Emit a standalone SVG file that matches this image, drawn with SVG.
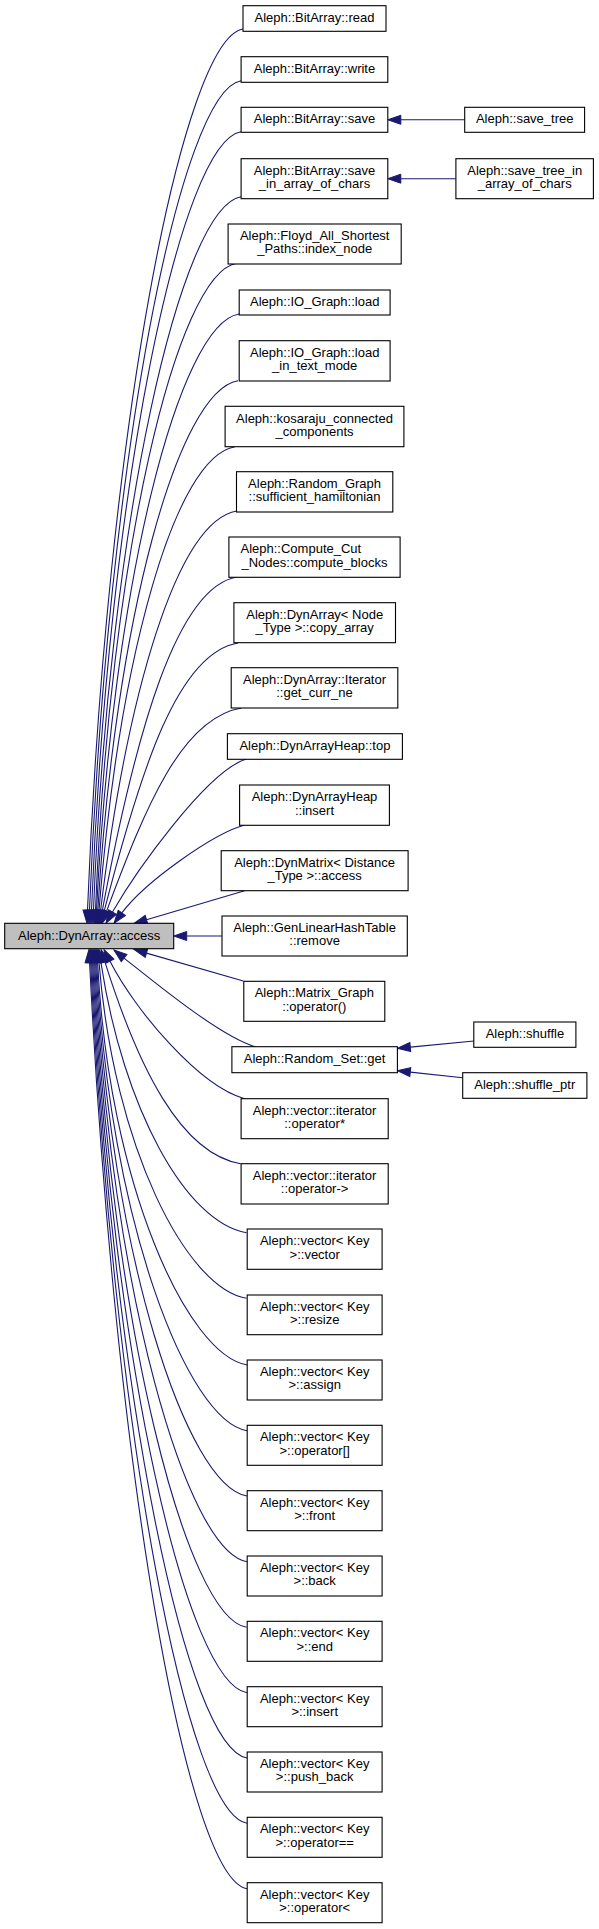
<svg xmlns="http://www.w3.org/2000/svg" width="599" height="1929" viewBox="0 0 599 1929">
<style>
.n rect{fill:#fff;stroke:#000;stroke-width:1.1}
#main rect{fill:#bfbfbf}
text{font-family:"Liberation Sans",Arial,Helvetica,sans-serif;font-size:13px;text-anchor:middle;fill:#000}
text.l{text-anchor:start}
.e path{fill:none;stroke:#191970;stroke-width:1.1;marker-end:url(#ah)}
</style>
<defs>
<marker id="ah" markerUnits="userSpaceOnUse" markerWidth="14" markerHeight="10" refX="0" refY="4.5" orient="auto" overflow="visible">
<path d="M0,0 L13,4.5 L0,9 Z" fill="#191970" stroke="#191970" stroke-width="1"/>
</marker>
</defs>
<rect width="599" height="1929" fill="#fff"/>
<g class="e" id="connectors">
<path d="M243,29 C183,39 106.9,425.6 87.5,910.3"/>
<path d="M241,80.7 C181,90.7 107.8,454 89.5,910.3"/>
<path d="M241,131.7 C181,141.7 108.6,482.1 91.5,910.3"/>
<path d="M241,196.7 C181,206.7 109.2,517.8 93.5,910.3"/>
<path d="M236.7,263.3 C176.7,273.3 109.7,554.4 95.5,910.3"/>
<path d="M239,314 C179,324 112.9,582.3 96.5,910.3"/>
<path d="M238,380.7 C178,390.7 115.3,619 97.8,910.3"/>
<path d="M235,446.7 C175,456.7 119.4,655.3 99,910.3"/>
<path d="M237,511 C177,521 127,692.9 100.6,910.4"/>
<path d="M237,577 C177,587 136,730.6 102.3,910.6"/>
<path d="M238,643 C178,653 141,768 104.3,910.7"/>
<path d="M241.5,708 C181.5,718 145.5,806.8 106.6,911.1"/>
<path d="M246.5,759 C206.5,771 135,873 112.5,912"/>
<path d="M244.6,825 C214.6,833 145.8,880.9 121.8,912.9"/>
<path d="M244.6,890.7 L146.5,919.7"/>
<path d="M222,936 L186.7,936"/>
<path d="M243.3,981 L146.5,953.1"/>
<path d="M256,1047 C221,1037 155.3,982.9 124.1,958.1"/>
<path d="M244.6,1098.7 C199.6,1086.7 134.6,1010 109.9,961.1"/>
<path d="M240.7,1163.7 C180.7,1153.7 138.2,1067.4 104.9,961.9"/>
<path d="M246.5,1232.7 C186.5,1222.7 123.2,1109.4 100.9,962.4"/>
<path d="M246.5,1298.3 C186.5,1288.3 113.8,1147.1 99,962.4"/>
<path d="M247.2,1365 C187.2,1355 108.7,1183.9 97.6,962.5"/>
<path d="M247,1430.7 C187,1420.7 109.5,1220 96.6,962.5"/>
<path d="M247,1496 C187,1486 110.3,1255.9 95.6,962.5"/>
<path d="M247,1561.7 C187,1551.7 111.1,1292.1 94.6,962.5"/>
<path d="M246.5,1627.3 C186.5,1617.3 111.9,1328.1 93.6,962.5"/>
<path d="M247,1692.7 C187,1682.7 112.7,1364.1 92.6,962.5"/>
<path d="M247,1758 C187,1748 113.5,1400 91.6,962.5"/>
<path d="M247,1823.3 C187,1813.3 114.3,1435.9 90.6,962.5"/>
<path d="M247,1888.7 C187,1878.7 115.1,1471.9 89.6,962.5"/>
<path d="M464.7,119.8 L400.8,119.8"/>
<path d="M455.9,178.7 L400.8,178.7"/>
<path d="M474,1041 L410.3,1047.1"/>
<path d="M462.7,1077.7 L410.3,1072.1"/>
</g>
<g class="n" id="main"><rect x="4.7" y="923.3" width="169" height="25.4"/><text x="89.2" y="939.5">Aleph::DynArray::access</text></g>
<g class="n" id="n_read"><rect x="243" y="5.7" width="143" height="25.6"/><text x="314.5" y="22">Aleph::BitArray::read</text></g>
<g class="n" id="n_write"><rect x="241.1" y="56.7" width="146.7" height="25.6"/><text x="314.5" y="72.7">Aleph::BitArray::write</text></g>
<g class="n" id="n_save"><rect x="241.1" y="107.3" width="146.7" height="25"/><text x="314.5" y="123.3">Aleph::BitArray::save</text></g>
<g class="n" id="n_save_in"><rect x="241.1" y="158.7" width="146.7" height="40"/><text x="314.5" y="174.7">Aleph::BitArray::save</text><text x="314.5" y="188">_in_array_of_chars</text></g>
<g class="n" id="n_save_tree"><rect x="464.7" y="107.3" width="119.9" height="25"/><text x="524.7" y="123.3">Aleph::save_tree</text></g>
<g class="n" id="n_save_tree_in"><rect x="455.9" y="158.7" width="137.5" height="40"/><text x="524.7" y="174.7">Aleph::save_tree_in</text><text x="524.7" y="188">_array_of_chars</text></g>
<g class="n" id="n_floyd"><rect x="228.1" y="224" width="173.1" height="40"/><text x="314.7" y="240">Aleph::Floyd_All_Shortest</text><text x="314.7" y="253.3">_Paths::index_node</text></g>
<g class="n" id="n_io_load"><rect x="239.2" y="290" width="150.9" height="25"/><text x="314.7" y="306">Aleph::IO_Graph::load</text></g>
<g class="n" id="n_io_load_text"><rect x="239.2" y="340.7" width="150.9" height="40.3"/><text x="314.7" y="356.8">Aleph::IO_Graph::load</text><text x="314.7" y="370.1">_in_text_mode</text></g>
<g class="n" id="n_kosaraju"><rect x="225.1" y="406.3" width="178.8" height="40.4"/><text x="314.5" y="422.5">Aleph::kosaraju_connected</text><text x="314.5" y="435.8">_components</text></g>
<g class="n" id="n_random_graph"><rect x="236.5" y="471.7" width="156.3" height="40.3"/><text x="314.6" y="487.8">Aleph::Random_Graph</text><text x="314.6" y="501.1">::sufficient_hamiltonian</text></g>
<g class="n" id="n_cut_nodes"><rect x="228.9" y="537" width="171.2" height="40.3"/><text class="l" x="240.5" y="553.2">Aleph::Compute_Cut</text><text x="314.5" y="566.5">_Nodes::compute_blocks</text></g>
<g class="n" id="n_copy_array"><rect x="233.9" y="602.7" width="161.6" height="40"/><text x="314.7" y="618.7">Aleph::DynArray&lt; Node</text><text x="314.7" y="632">_Type &gt;::copy_array</text></g>
<g class="n" id="n_iterator"><rect x="231.2" y="667.7" width="166.6" height="40.3"/><text x="314.5" y="683.8">Aleph::DynArray::Iterator</text><text x="314.5" y="697.1">::get_curr_ne</text></g>
<g class="n" id="n_heap_top"><rect x="227.4" y="733.7" width="175" height="25.6"/><text x="314.9" y="750">Aleph::DynArrayHeap::top</text></g>
<g class="n" id="n_heap_insert"><rect x="239.6" y="785" width="149.8" height="40.3"/><text x="314.5" y="801.2">Aleph::DynArrayHeap</text><text x="314.5" y="814.5">::insert</text></g>
<g class="n" id="n_dynmatrix"><rect x="221.2" y="850.7" width="186.9" height="40"/><text x="314.6" y="866.7">Aleph::DynMatrix&lt; Distance</text><text x="314.6" y="880">_Type &gt;::access</text></g>
<g class="n" id="n_genlinear"><rect x="222" y="916" width="185.3" height="40"/><text x="314.6" y="932">Aleph::GenLinearHashTable</text><text x="314.6" y="945.3">::remove</text></g>
<g class="n" id="n_matrix_graph"><rect x="243.8" y="981.3" width="141" height="40"/><text x="314.3" y="997.3">Aleph::Matrix_Graph</text><text x="314.3" y="1010.6">::operator()</text></g>
<g class="n" id="n_random_set_get"><rect x="231.9" y="1046.7" width="165.5" height="26"/><text x="314.6" y="1063.2">Aleph::Random_Set::get</text></g>
<g class="n" id="n_shuffle"><rect x="473.8" y="1022" width="102.1" height="25.3"/><text x="524.9" y="1038.2">Aleph::shuffle</text></g>
<g class="n" id="n_shuffle_ptr"><rect x="462.7" y="1072.7" width="124.2" height="25.6"/><text x="524.8" y="1089">Aleph::shuffle_ptr</text></g>
<g class="n" id="n_it_star"><rect x="241.1" y="1098.7" width="147.1" height="40"/><text x="314.6" y="1114.7">Aleph::vector::iterator</text><text x="314.6" y="1128">::operator*</text></g>
<g class="n" id="n_it_arrow"><rect x="241.1" y="1163.7" width="147.1" height="40.3"/><text x="314.6" y="1179.8">Aleph::vector::iterator</text><text x="314.6" y="1193.1">::operator-&gt;</text></g>
<g class="n" id="n_vector"><rect x="247.2" y="1229" width="134.9" height="40.3"/><text x="314.7" y="1245.2">Aleph::vector&lt; Key</text><text x="314.7" y="1258.5">&gt;::vector</text></g>
<g class="n" id="n_resize"><rect x="247.2" y="1295" width="134.9" height="39.7"/><text x="314.7" y="1310.8">Aleph::vector&lt; Key</text><text x="314.7" y="1324.1">&gt;::resize</text></g>
<g class="n" id="n_assign"><rect x="247.2" y="1360" width="134.9" height="40"/><text x="314.7" y="1376">Aleph::vector&lt; Key</text><text x="314.7" y="1389.3">&gt;::assign</text></g>
<g class="n" id="n_op_index"><rect x="247.2" y="1425.3" width="134.9" height="40"/><text x="314.7" y="1441.3">Aleph::vector&lt; Key</text><text x="314.7" y="1454.6">&gt;::operator[]</text></g>
<g class="n" id="n_front"><rect x="247.2" y="1490.7" width="134.9" height="40"/><text x="314.7" y="1506.7">Aleph::vector&lt; Key</text><text x="314.7" y="1520">&gt;::front</text></g>
<g class="n" id="n_back"><rect x="247.2" y="1556" width="134.9" height="40"/><text x="314.7" y="1572">Aleph::vector&lt; Key</text><text x="314.7" y="1585.3">&gt;::back</text></g>
<g class="n" id="n_end"><rect x="247.2" y="1621.3" width="134.9" height="40"/><text x="314.7" y="1637.3">Aleph::vector&lt; Key</text><text x="314.7" y="1650.6">&gt;::end</text></g>
<g class="n" id="n_insert"><rect x="247.2" y="1686.7" width="134.9" height="40"/><text x="314.7" y="1702.7">Aleph::vector&lt; Key</text><text x="314.7" y="1716">&gt;::insert</text></g>
<g class="n" id="n_push_back"><rect x="247.2" y="1752" width="134.9" height="40"/><text x="314.7" y="1768">Aleph::vector&lt; Key</text><text x="314.7" y="1781.3">&gt;::push_back</text></g>
<g class="n" id="n_op_eq"><rect x="247.2" y="1817.3" width="134.9" height="40"/><text x="314.7" y="1833.3">Aleph::vector&lt; Key</text><text x="314.7" y="1846.6">&gt;::operator==</text></g>
<g class="n" id="n_op_lt"><rect x="247.2" y="1882.7" width="134.9" height="40"/><text x="314.7" y="1898.7">Aleph::vector&lt; Key</text><text x="314.7" y="1912">&gt;::operator&lt;</text></g>
</svg>
